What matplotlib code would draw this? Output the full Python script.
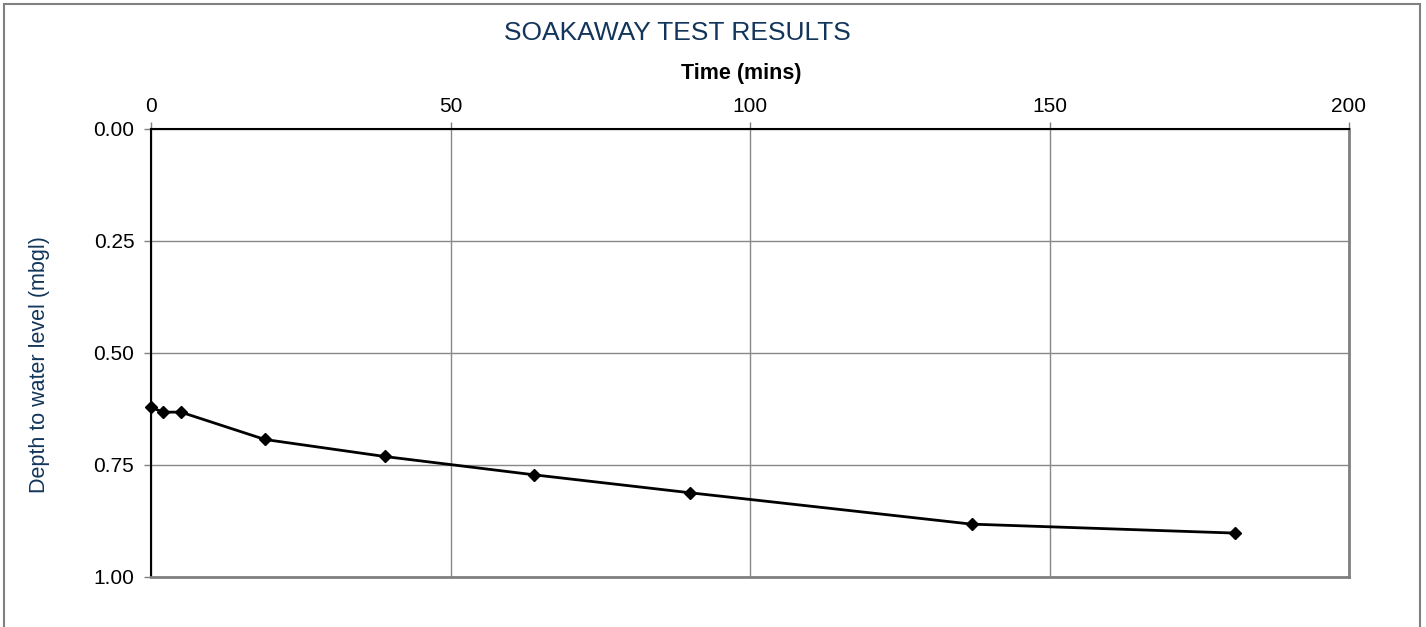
import matplotlib.pyplot as plt
from matplotlib.patches import Rectangle
from matplotlib.ticker import FormatStrFormatter

plt.rcParams['font.family'] = ['Liberation Sans', 'DejaVu Sans']

# soakaway readings
time_mins = [0, 2, 5, 19, 39, 64, 90, 137, 181]
depth_mbgl = [0.621, 0.632, 0.632, 0.693, 0.731, 0.772, 0.812, 0.882, 0.902]

x_ticks = [0, 50, 100, 150, 200]
y_ticks = [0.00, 0.25, 0.50, 0.75, 1.00]

navy = '#12355b'

fig = plt.figure(figsize=(14.26, 6.27), dpi=100)
ax = fig.add_axes([151/1426, 1 - 577/627, 1198/1426, 448/627])

ax.plot(time_mins, depth_mbgl, color='black', lw=2, marker='D', ms=6,
        mfc='black', mec='black', zorder=3, clip_on=False)

ax.set_xlim(0, 200)
ax.set_ylim(1.0, 0.0)
ax.set_xticks(x_ticks)
ax.set_yticks(y_ticks)
ax.yaxis.set_major_formatter(FormatStrFormatter('%.2f'))
ax.xaxis.tick_top()
ax.tick_params(axis='both', labelsize=15, length=5, width=1, color='#808080')
ax.tick_params(axis='y', pad=7)
ax.tick_params(axis='x', pad=4)
ax.grid(True, color='#888888', lw=1)

for side in ('left', 'top'):
    ax.spines[side].set_color('black')
    ax.spines[side].set_linewidth(1.5)
for side in ('right', 'bottom'):
    ax.spines[side].set_color('#808080')
    ax.spines[side].set_linewidth(2)

fig.text(677/1426, 1 - 33/627, 'SOAKAWAY TEST RESULTS', ha='center', va='center',
         fontsize=19, color=navy)
fig.text(741/1426, 1 - 73/627, 'Time (mins)', ha='center', va='center',
         fontsize=15.5, fontweight='bold', color='black')
fig.text(40/1426, 1 - 365/627, 'Depth to water level (mbgl)', ha='center', va='center',
         rotation=90, fontsize=15.5, color=navy)

# outer chart border
fig.patches.append(Rectangle((4/1426, -0.01), 1416/1426, 1 - 4/627 + 0.01,
                             transform=fig.transFigure, fill=False,
                             edgecolor='#808080', lw=1.5))

fig.savefig('out.png', dpi=100, facecolor='white')
